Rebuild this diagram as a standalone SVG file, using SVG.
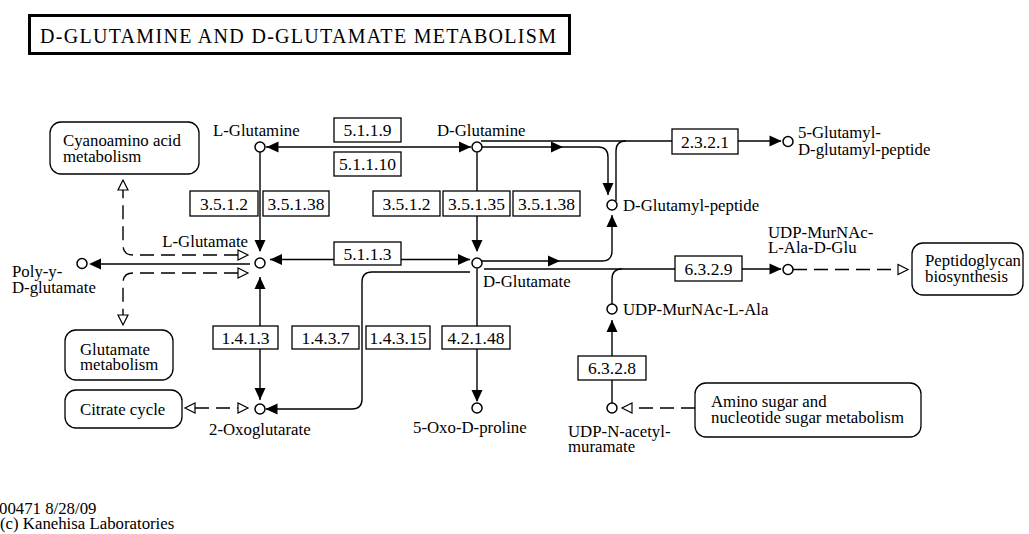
<svg xmlns="http://www.w3.org/2000/svg" width="1029" height="534" viewBox="0 0 1029 534" font-family="'Liberation Serif', 'Times New Roman', serif">
<style>
text { font-family: "Liberation Serif", "Times New Roman", serif; fill: #000; }
.lb { font-size: 16.8px; }
.et { font-size: 17.5px; text-anchor: middle; }
.ln { fill: none; stroke: #000; stroke-width: 1.4; }
.dl { fill: none; stroke: #000; stroke-width: 1.4; stroke-dasharray: 14 7; }
.cpd { fill: #fff; stroke: #000; stroke-width: 1.5; }
.enz { fill: #fff; stroke: #000; stroke-width: 1.3; }
.map { fill: #fff; stroke: #000; stroke-width: 1.3; }
</style>
<defs>
<path id="fa" d="M0,0 L-12,-5.5 L-12,5.5 Z" fill="#000"/>
<path id="ha" d="M0,0 L-10,-5 L-10,5 Z" fill="#fff" stroke="#000" stroke-width="1.2"/>
</defs>
<rect width="1029" height="534" fill="#fff"/>

<g id="title">
<rect x="29.5" y="15.5" width="540" height="38" fill="#fff" stroke="#000" stroke-width="3"/>
<text x="40" y="43" font-size="20" textLength="516" lengthAdjust="spacing">D-GLUTAMINE AND D-GLUTAMATE METABOLISM</text>
</g>

<g id="connectors">
<path class="ln" d="M266,147 H471"/>
<use href="#fa" transform="translate(266.5,147) rotate(180)"/>
<use href="#fa" transform="translate(471,147)"/>
<path class="ln" d="M260,152 V251"/>
<use href="#fa" transform="translate(260,252) rotate(90)"/>
<path class="ln" d="M270,259.5 H470"/>
<use href="#fa" transform="translate(270,259.5) rotate(180)"/>
<use href="#fa" transform="translate(470,259.5)"/>
<path class="ln" d="M477,152.5 V251"/>
<use href="#fa" transform="translate(477,252) rotate(90)"/>
<path class="ln" d="M250,264 H100"/>
<use href="#fa" transform="translate(89,264) rotate(180)"/>
<path class="dl" d="M238,255 H133 Q123,255 123,245 V190"/>
<use href="#ha" transform="translate(248,255)"/>
<use href="#ha" transform="translate(123,180) rotate(-90)"/>
<path class="dl" d="M238,273 H133 Q123,273 123,283 V315"/>
<use href="#ha" transform="translate(248,273)"/>
<use href="#ha" transform="translate(123,325) rotate(90)"/>
<path class="ln" d="M260,277 V400"/>
<use href="#fa" transform="translate(260,277) rotate(-90)"/>
<use href="#fa" transform="translate(260,400) rotate(90)"/>
<path class="ln" d="M470,272 H372 Q362,272 362,282 V399 Q362,409 352,409 H266"/>
<use href="#fa" transform="translate(265.5,409) rotate(180)"/>
<path class="ln" d="M477,268.5 V401"/>
<use href="#fa" transform="translate(477,402) rotate(90)"/>
<path class="ln" d="M482,147 H598 Q608,147 608,157 V195"/>
<use href="#fa" transform="translate(563,147)"/>
<use href="#fa" transform="translate(608,195) rotate(90)"/>
<path class="ln" d="M482,261 H602 Q612,261 612,251 V215"/>
<use href="#fa" transform="translate(560,261)"/>
<use href="#fa" transform="translate(612,215) rotate(-90)"/>
<path class="ln" d="M481,141 H781"/>
<path class="ln" d="M616,201 V151 Q616,141 626,141"/>
<use href="#fa" transform="translate(781.5,141)"/>
<path class="ln" d="M484,269 H781"/>
<path class="ln" d="M612,304 V279 Q612,269 622,269"/>
<use href="#fa" transform="translate(781.5,269)"/>
<path class="ln" d="M612,403 V320"/>
<use href="#fa" transform="translate(612,320) rotate(-90)"/>
<path class="dl" d="M695,408 H632"/>
<use href="#ha" transform="translate(622,408) rotate(180)"/>
<path class="dl" d="M793,269.5 H898"/>
<use href="#ha" transform="translate(908,269.5)"/>
<path class="dl" d="M195,408 H238"/>
<use href="#ha" transform="translate(185,408) rotate(180)"/>
<use href="#ha" transform="translate(248,408)"/>
</g>

<g id="enzymes">
<g id="e5119"><rect class="enz" x="334" y="118" width="67" height="24"/><text class="et" x="367.5" y="136">5.1.1.9</text></g>
<g id="e51110"><rect class="enz" x="334" y="152" width="67" height="24"/><text class="et" x="367.5" y="170">5.1.1.10</text></g>
<g id="e3512a"><rect class="enz" x="190" y="191" width="68" height="25"/><text class="et" x="224" y="209.5">3.5.1.2</text></g>
<g id="e35138a"><rect class="enz" x="263" y="191" width="66" height="25"/><text class="et" x="296" y="209.5">3.5.1.38</text></g>
<g id="e3512b"><rect class="enz" x="373" y="191" width="67" height="25"/><text class="et" x="406.5" y="209.5">3.5.1.2</text></g>
<g id="e35135"><rect class="enz" x="443" y="191" width="67" height="25"/><text class="et" x="476.5" y="209.5">3.5.1.35</text></g>
<g id="e35138b"><rect class="enz" x="513" y="191" width="67" height="25"/><text class="et" x="546.5" y="209.5">3.5.1.38</text></g>
<g id="e5113"><rect class="enz" x="334" y="242" width="67" height="23"/><text class="et" x="367.5" y="259.5">5.1.1.3</text></g>
<g id="e2321"><rect class="enz" x="672" y="129" width="66" height="25"/><text class="et" x="705" y="147.5">2.3.2.1</text></g>
<g id="e6329"><rect class="enz" x="675" y="256" width="67" height="25"/><text class="et" x="708.5" y="274.5">6.3.2.9</text></g>
<g id="e1413"><rect class="enz" x="213" y="326" width="65" height="23"/><text class="et" x="245.5" y="343.5">1.4.1.3</text></g>
<g id="e1437"><rect class="enz" x="292" y="326" width="67" height="23"/><text class="et" x="325.5" y="343.5">1.4.3.7</text></g>
<g id="e14315"><rect class="enz" x="366" y="326" width="64" height="23"/><text class="et" x="398" y="343.5">1.4.3.15</text></g>
<g id="e42148"><rect class="enz" x="442" y="326" width="68" height="23"/><text class="et" x="476" y="343.5">4.2.1.48</text></g>
<g id="e6328"><rect class="enz" x="578" y="356" width="68" height="24"/><text class="et" x="612" y="374">6.3.2.8</text></g>
</g>

<g id="maps">
<g id="m_cyano"><rect class="map" x="50" y="122" width="149" height="52" rx="11"/><text class="lb" x="63" y="146">Cyanoamino acid<tspan x="63" dy="16">metabolism</tspan></text></g>
<g id="m_glu"><rect class="map" x="65" y="330" width="108" height="50" rx="11"/><text class="lb" x="80" y="355">Glutamate<tspan x="80" dy="15">metabolism</tspan></text></g>
<g id="m_tca"><rect class="map" x="65" y="390" width="117" height="38" rx="11"/><text class="lb" x="80" y="415">Citrate cycle</text></g>
<g id="m_pg"><rect class="map" x="912" y="243" width="111" height="52" rx="11"/><text class="lb" x="925" y="266">Peptidoglycan<tspan x="925" dy="16">biosynthesis</tspan></text></g>
<g id="m_amino"><rect class="map" x="695" y="383" width="226" height="54" rx="11"/><text class="lb" x="711" y="407">Amino sugar and<tspan x="711" dy="16">nucleotide sugar metabolism</tspan></text></g>
</g>

<g id="compounds">
<g id="c_lgln"><circle class="cpd" cx="260" cy="147" r="5"/><text class="lb" x="213" y="136">L-Glutamine</text></g>
<g id="c_dgln"><circle class="cpd" cx="477" cy="147" r="5"/><text class="lb" x="437" y="136">D-Glutamine</text></g>
<g id="c_lglu"><circle class="cpd" cx="260" cy="263" r="5"/><text class="lb" x="248" y="247" text-anchor="end">L-Glutamate</text></g>
<g id="c_dglu"><circle class="cpd" cx="477" cy="263" r="5"/><text class="lb" x="483" y="287">D-Glutamate</text></g>
<g id="c_2og"><circle class="cpd" cx="260" cy="409" r="5"/><text class="lb" x="209" y="435">2-Oxoglutarate</text></g>
<g id="c_5oxo"><circle class="cpd" cx="477" cy="408" r="5"/><text class="lb" x="413" y="433">5-Oxo-D-proline</text></g>
<g id="c_dgp"><circle class="cpd" cx="612" cy="205" r="5"/><text class="lb" x="623" y="211">D-Glutamyl-peptide</text></g>
<g id="c_5g"><circle class="cpd" cx="788" cy="141.5" r="5"/><text class="lb" x="798" y="138">5-Glutamyl-<tspan x="798" dy="17">D-glutamyl-peptide</tspan></text></g>
<g id="c_udpglu"><circle class="cpd" cx="788" cy="269.5" r="5"/><text class="lb" x="768" y="238">UDP-MurNAc-<tspan x="768" dy="15">L-Ala-D-Glu</tspan></text></g>
<g id="c_udpala"><circle class="cpd" cx="612" cy="309" r="5"/><text class="lb" x="623" y="315">UDP-MurNAc-L-Ala</text></g>
<g id="c_udpmur"><circle class="cpd" cx="612" cy="408" r="5"/><text class="lb" x="568" y="437">UDP-N-acetyl-<tspan x="568" dy="15">muramate</tspan></text></g>
<g id="c_poly"><circle class="cpd" cx="82" cy="263.5" r="5"/><text class="lb" x="12" y="277">Poly-y-<tspan x="12" dy="16">D-glutamate</tspan></text></g>
</g>

<g id="footer">
<text class="lb" x="-1" y="514">00471 8/28/09<tspan x="0" dy="15">(c) Kanehisa Laboratories</tspan></text>
</g>
</svg>
